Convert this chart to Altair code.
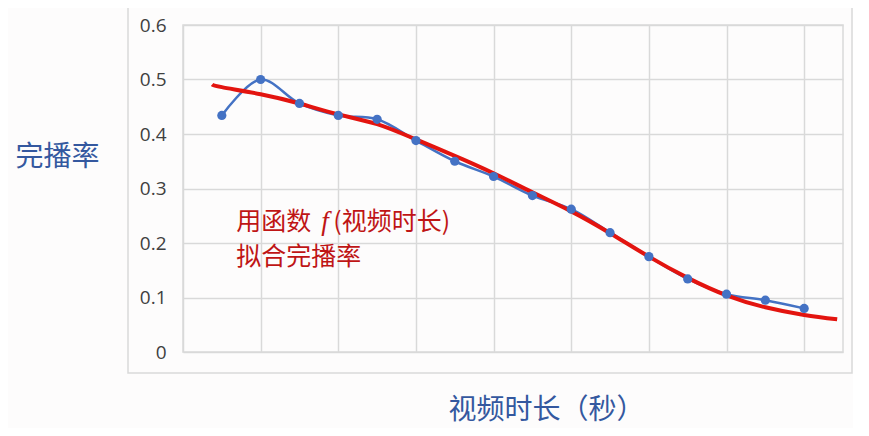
import altair as alt
import pandas as pd

# observed data (x = category index of video duration)
obs_x = list(range(1, 17))
obs_y = [0.434, 0.500, 0.456, 0.434, 0.427, 0.388, 0.350, 0.322,
         0.287, 0.262, 0.219, 0.175, 0.134, 0.106, 0.095, 0.080]

# fitted curve samples
fit_x = [0.75, 1, 2, 3, 4, 5, 6, 7, 8, 9, 10, 11, 12, 13, 14, 15, 16, 16.85]
fit_y = [0.491, 0.486, 0.473, 0.456, 0.436, 0.418, 0.390, 0.360, 0.328,
         0.293, 0.258, 0.218, 0.175, 0.136, 0.104, 0.082, 0.068, 0.060]

grid_x = list(range(0, 18))
y_ticks = [0, 0.1, 0.2, 0.3, 0.4, 0.5, 0.6]

y_title = "完播率"
x_title = "视频时长（秒）"
note_a = "用函数"
note_f = "f"
note_b = "(视频时长)"
note_c = "拟合完播率"

W, H = 660, 327
BLUE = "#4472c4"
RED = "#e3140f"
TXT_RED = "#bf1515"
TITLE_BLUE = "#34589f"
GRID = "#d9d9d9"
CJK = "Noto Sans CJK SC"

obs = pd.DataFrame({"x": obs_x, "y": obs_y})
fit = pd.DataFrame({"x": fit_x, "y": fit_y})

xs = alt.Scale(domain=[0, 17], nice=False, zero=False)
ys = alt.Scale(domain=[0, 0.6], nice=False)

x_axis = alt.Axis(values=grid_x, labels=False, ticks=False, domain=False,
                  grid=True, gridColor=GRID, gridWidth=1.5,
                  title=x_title, titleFont=CJK, titleFontSize=28,
                  titleFontWeight="normal", titleColor=TITLE_BLUE,
                  titleX=363, titleY=58, titleAlign="center",
                  titleBaseline="middle")
y_axis = alt.Axis(values=y_ticks, ticks=False, domain=False, grid=True,
                  gridColor=GRID, gridWidth=1.5, labelFont="Open Sans",
                  labelFontSize=19, labelColor="#404040", labelPadding=17,
                  labelExpr="datum.value == 0 ? '0' : format(datum.value, '.1f')",
                  title=y_title, titleFont=CJK, titleFontSize=28,
                  titleFontWeight="normal", titleColor=TITLE_BLUE,
                  titleAngle=0, titleX=-126, titleY=132, titleAlign="center",
                  titleBaseline="middle")

blue_line = alt.Chart(obs).mark_line(
    color=BLUE, strokeWidth=2.5, interpolate="catmull-rom"
).encode(x=alt.X("x:Q", scale=xs, axis=x_axis),
         y=alt.Y("y:Q", scale=ys, axis=y_axis))

blue_pts = alt.Chart(obs).mark_point(
    filled=True, color=BLUE, size=85, opacity=1
).encode(x=alt.X("x:Q", scale=xs), y=alt.Y("y:Q", scale=ys))

red_line = alt.Chart(fit).mark_line(
    color=RED, strokeWidth=4, interpolate="natural"
).encode(x=alt.X("x:Q", scale=xs), y=alt.Y("y:Q", scale=ys))

notes = pd.DataFrame({
    "x": [1.37, 3.56, 3.87, 1.37],
    "y": [0.2385, 0.2385, 0.2385, 0.174],
    "t": [note_a, note_f, note_b, note_c],
    "style": ["n", "i", "n", "n"],
})
note_norm = alt.Chart(notes).transform_filter("datum.style == 'n'").mark_text(
    align="left", baseline="middle", font=CJK, fontSize=25, color=TXT_RED
).encode(x=alt.X("x:Q", scale=xs), y=alt.Y("y:Q", scale=ys), text="t:N")
note_ital = alt.Chart(notes).transform_filter("datum.style == 'i'").mark_text(
    align="left", baseline="middle", font="Liberation Serif", fontSize=27,
    fontStyle="italic", color=TXT_RED
).encode(x=alt.X("x:Q", scale=xs), y=alt.Y("y:Q", scale=ys), text="t:N")

frame = alt.Chart(pd.DataFrame({"a": [0]})).mark_rect(
    fillOpacity=0, stroke=GRID, strokeWidth=1.5
).encode(x=alt.value(-55), x2=alt.value(669), y=alt.value(-21), y2=alt.value(H + 21))

chart = alt.layer(frame, blue_line, red_line, blue_pts, note_norm, note_ital).properties(
    width=W, height=H,
    autosize=alt.AutoSizeParams(type="none"),
    padding={"left": 175, "top": 17, "right": 10, "bottom": 76},
    background="#fdfcfc",
).configure_view(stroke=GRID, strokeWidth=1.5)

chart.save("out.html", embed_options={"renderer": "svg", "actions": False})
